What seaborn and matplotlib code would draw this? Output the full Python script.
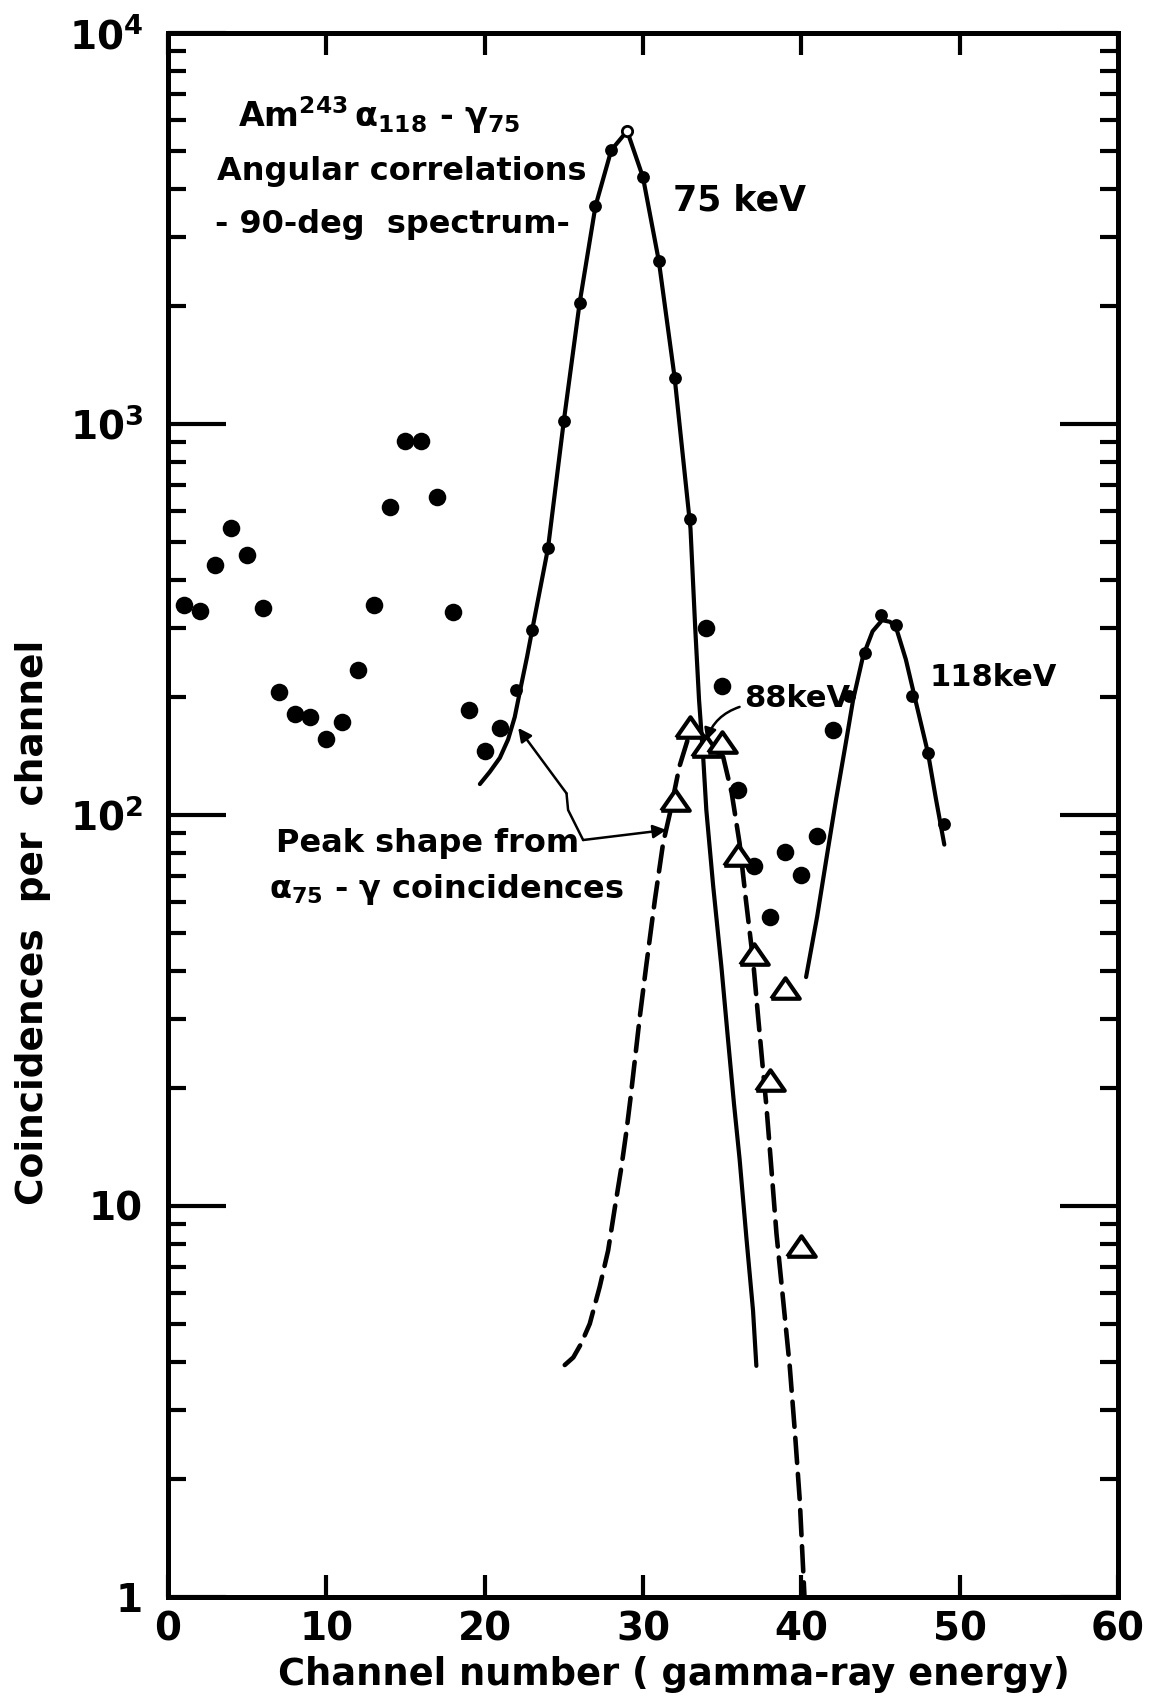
# Am-243 alpha-gamma angular correlation spectrum (90 deg)
import seaborn as sns
import matplotlib.pyplot as plt
from matplotlib.ticker import FixedLocator, FixedFormatter, NullFormatter

sns.set_style("white")
plt.rcParams['font.family'] = ['DejaVu Sans']
plt.rcParams['font.weight'] = 'bold'
plt.rcParams['axes.labelweight'] = 'bold'
plt.rcParams['mathtext.fontset'] = 'custom'
plt.rcParams['mathtext.rm'] = 'DejaVu Sans:bold'
plt.rcParams['mathtext.it'] = 'DejaVu Sans:bold'
plt.rcParams['mathtext.bf'] = 'DejaVu Sans:bold'
plt.rcParams['mathtext.default'] = 'rm'
for key in ['text.color', 'axes.labelcolor', 'xtick.color', 'ytick.color']:
    plt.rcParams[key] = 'black'

# --- data ---
# background points (off the fitted curves)
bg_ch = [1, 2, 3, 4, 5, 6, 7, 8, 9, 10, 11, 12, 13, 14, 15, 16, 17, 18, 19, 20, 21,
         34, 35, 36, 37, 38, 39, 40, 41, 42]
bg_val = [345, 333, 435, 542, 462, 338, 206, 181, 178, 156, 173, 235, 345, 613, 906, 906, 649,
          331, 186, 146, 167, 300, 214, 116, 74, 55, 80.5, 70.3, 88.4, 165]

# points lying on the drawn peaks
fit_ch = [22, 23, 24, 25, 26, 27, 28, 30, 31, 32, 33, 43, 44, 45, 46, 47, 48, 49]
fit_val = [209, 297, 481, 1018, 2042, 3610, 5020, 4275, 2612, 1313, 571,
           201, 259, 324, 307, 201, 144, 95]

# open circle at the 75 keV maximum
peak_ch = [29]
peak_val = [5615]

# triangles (88 keV component)
tri_ch = [32, 33, 34, 35, 36, 37, 38, 39, 40]
tri_val = [109, 168, 150, 154, 79, 44, 21, 36, 7.9]

# solid curve through 75 keV peak
c75_ch = [19.7, 20.33, 20.96, 21.48, 21.9, 22.33, 22.68, 23, 24, 25, 26, 27, 28, 29, 30, 31, 32, 33,
          33.3, 33.54, 33.8, 34.0, 34.43, 34.95, 35.35, 35.75, 36.1, 36.53, 36.95, 37.16]
c75_val = [120, 129, 140, 156, 178, 217, 254, 297, 481, 1018, 2042, 3610, 5020, 5615, 4275, 2612,
           1313, 540, 300, 197, 141, 103, 66, 41, 27.2, 18.2, 13.2, 8.3, 5.4, 3.9]

# dashed peak shape (alpha75-gamma coincidences)
dash_ch = [25.06, 25.6, 26.1, 26.64, 27.27, 27.8, 28.2, 28.64, 28.96, 29.2, 29.8, 30.2, 30.75,
           31.27, 31.7, 32.3, 32.95, 33.6, 34.3, 35.06, 35.6, 36.1, 36.5, 36.95, 37.27, 37.6,
           37.8, 38.1, 38.43, 38.85, 39.27, 39.6, 39.9, 40.2]
dash_val = [3.92, 4.1, 4.45, 5.0, 6.22, 7.7, 9.77, 12.6, 15.6, 18.7, 30.5, 41, 60.6,
            84.7, 101, 133, 162, 159, 150, 141, 114, 84.7, 60.6, 42.6, 30.5, 21.8,
            17.9, 12.6, 8.5, 5.75, 3.88, 2.62, 1.77, 1.0]

# solid curve through 118 keV peak
c118_ch = [40.3, 41.0, 41.6, 42.2, 42.8, 43.27, 43.9, 44.5, 45.1, 45.6, 46.0, 46.6, 47.15, 48, 48.5, 49.03]
c118_val = [38.5, 55, 78, 110, 152, 197, 255, 295, 315, 312, 300, 250, 201, 144, 110, 84]

x_ticks = [0, 10, 20, 30, 40, 50, 60]
y_ticks = [1, 10, 100, 1000, 10000]
y_labels = ['1', '10', r'$10^2$', r'$10^3$', r'$10^4$']

# --- figure ---
fig = plt.figure(figsize=(11.52, 17.02), dpi=100)
ax = fig.add_axes([0.1458, 0.0617, 0.8247, 0.9189])
ax.set_yscale('log')

# curves
sns.lineplot(x=c75_ch, y=c75_val, ax=ax, sort=False, estimator=None, color='black',
             lw=3, solid_capstyle='round', zorder=3)
sns.lineplot(x=c118_ch, y=c118_val, ax=ax, sort=False, estimator=None, color='black',
             lw=3, solid_capstyle='round', zorder=3)
sns.lineplot(x=dash_ch, y=dash_val, ax=ax, sort=False, estimator=None, color='black',
             lw=3.3, linestyle=(0, (5.5, 2.4)), dash_capstyle='round', zorder=3)

# points
sns.scatterplot(x=bg_ch, y=bg_val, ax=ax, color='black', s=160, linewidth=0, zorder=5)
sns.scatterplot(x=fit_ch, y=fit_val, ax=ax, color='black', s=85, linewidth=0, zorder=5)
sns.scatterplot(x=peak_ch, y=peak_val, ax=ax, color='white', edgecolor='black',
                s=55, linewidth=2, zorder=6)
tri_marker = [(-1, -0.72), (1, -0.72), (0, 0.72), (-1, -0.72)]
sns.scatterplot(x=tri_ch, y=tri_val, ax=ax, color='white', edgecolor='black', marker=tri_marker,
                s=420, linewidth=3, zorder=6)

# axes
ax.set_xlim(0, 60)
ax.set_ylim(1, 10000)
ax.xaxis.set_major_locator(FixedLocator(x_ticks))
ax.yaxis.set_major_locator(FixedLocator(y_ticks))
ax.yaxis.set_major_formatter(FixedFormatter(y_labels))
minors = [m * 10 ** e for e in range(4) for m in range(2, 10)]
ax.yaxis.set_minor_locator(FixedLocator(minors))
ax.yaxis.set_minor_formatter(NullFormatter())

for sp in ax.spines.values():
    sp.set_linewidth(3.6)
    sp.set_color('black')

ax.tick_params(axis='x', which='major', direction='in', top=True, bottom=True,
               length=16, width=3, labelsize=28, pad=10)
ax.tick_params(axis='y', which='major', direction='in', left=True, right=True,
               length=42, width=3, labelsize=28, pad=18)
ax.tick_params(axis='y', which='minor', direction='in', left=True, right=True,
               length=13, width=3)

ax.set_xlabel('Channel number ( gamma-ray energy)', fontsize=26.5, fontweight='bold')
ax.xaxis.set_label_coords(0.533, -0.038)
fig.text(0.029, 0.458, 'Coincidences  per  channel', fontsize=27, rotation=90,
         ha='center', va='center')

# text labels
ax.text(4.4, 5750, r'Am$^{243}\,\alpha_{118}$ - $\gamma_{75}$', fontsize=24)
ax.text(3.1, 4208, 'Angular correlations', fontsize=23)
ax.text(3.0, 3078, '- 90-deg  spectrum-', fontsize=23)
ax.text(31.9, 3526, '75 keV', fontsize=25)
ax.text(48.1, 214, '118keV', fontsize=22)
ax.text(36.4, 189, '88keV', fontsize=22)
ax.text(6.8, 80.2, 'Peak shape from', fontsize=23)
ax.text(6.4, 61.4, r'$\alpha_{75}$ - $\gamma$ coincidences', fontsize=23)

# arrows of the "Peak shape" note
arrow = dict(arrowstyle='-|>', lw=1.8, color='black', mutation_scale=20, shrinkA=0, shrinkB=0)
ax.plot([26.22, 25.27, 25.17], [86.3, 103, 113.6], color='black', lw=1.8)
ax.annotate('', xy=(22.12, 167), xytext=(25.17, 113.6), arrowprops=arrow)
ax.annotate('', xy=(31.48, 91.6), xytext=(26.22, 86.3), arrowprops=arrow)
# arrow of the 88 keV label
ax.annotate('', xy=(34.0, 155), xytext=(36.1, 189),
            arrowprops=dict(arrowstyle='-|>', lw=1.8, color='black', mutation_scale=18,
                            shrinkA=0, shrinkB=0, connectionstyle='arc3,rad=0.25'))

fig.savefig('out.png', dpi=100, facecolor='white')
